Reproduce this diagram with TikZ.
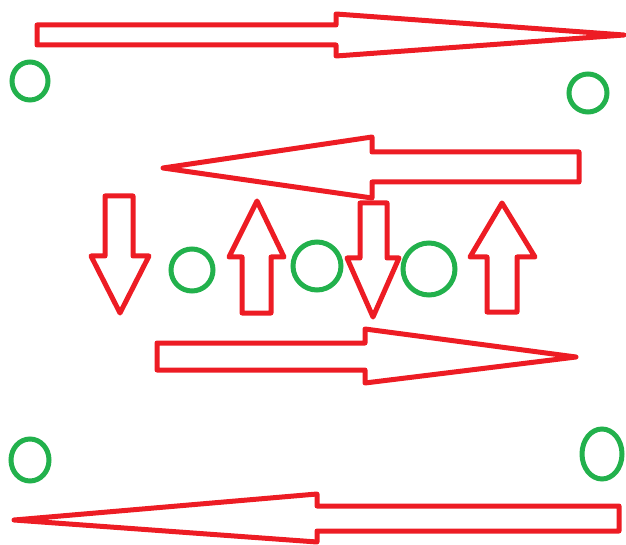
\documentclass[tikz,border=0pt]{standalone}
\definecolor{paintred}{HTML}{ED1C24}
\definecolor{paintgreen}{HTML}{22B14C}
\begin{document}
\begin{tikzpicture}[x=1pt,y=-1pt,
  arrowshape/.style={draw=paintred,line width=5pt,line join=round},
  ring/.style={draw=paintgreen,line width=5pt}]
\useasboundingbox (0,0) rectangle (626,545);

% horizontal block arrows
\draw[arrowshape] (37,25) -- (336,25) -- (336,14) -- (624,35) -- (336,56) -- (336,45) -- (37,45) -- cycle;
\draw[arrowshape] (579,152) -- (372,152) -- (372,137) -- (163,168) -- (372,198) -- (372,182) -- (579,182) -- cycle;
\draw[arrowshape] (157,343) -- (365,343) -- (365,329) -- (576,357) -- (365,383) -- (365,370) -- (157,370) -- cycle;
\draw[arrowshape] (619,506) -- (317,506) -- (317,494) -- (14,520) -- (317,542) -- (317,531) -- (619,531) -- cycle;

% vertical block arrows
\draw[arrowshape] (105,196) -- (133,196) -- (133,256) -- (149,256) -- (120,313) -- (91,256) -- (105,256) -- cycle;
\draw[arrowshape] (242,313) -- (271,313) -- (271,257) -- (284,257) -- (257,201) -- (229,257) -- (242,257) -- cycle;
\draw[arrowshape] (360,203) -- (387,203) -- (387,258) -- (399,258) -- (373,317) -- (347,258) -- (360,258) -- cycle;
\draw[arrowshape] (487,312) -- (517,312) -- (517,257) -- (535,257) -- (502,203) -- (470,257) -- (487,257) -- cycle;

% green rings
\draw[ring] (30,81) ellipse [x radius=18, y radius=19];
\draw[ring] (588,93) ellipse [x radius=19, y radius=19];
\draw[ring] (192,270) circle [radius=21];
\draw[ring] (317,266) circle [radius=24];
\draw[ring] (429,269) circle [radius=26];
\draw[ring] (30,460) ellipse [x radius=19, y radius=21];
\draw[ring] (602,454) ellipse [x radius=20, y radius=25];
\end{tikzpicture}
\end{document}
